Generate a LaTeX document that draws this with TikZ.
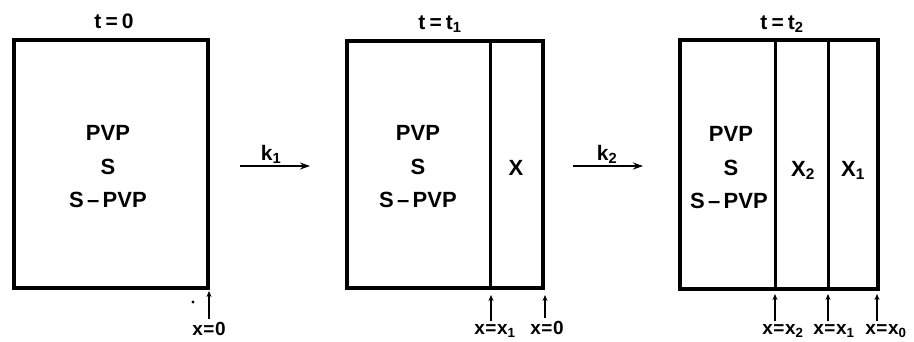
\documentclass[tikz,border=0pt]{standalone}
\usepackage{fontspec}
\setmainfont{Liberation Sans}
\usetikzlibrary{arrows.meta}
\begin{document}
\begin{tikzpicture}[x=1pt,y=-1pt,
  frame/.style={line width=4pt},
  divider/.style={line width=3pt},
  txt/.style={font=\fontsize{22}{24}\selectfont\bfseries, inner sep=0pt, anchor=base},
  ttl/.style={font=\fontsize{21}{24}\selectfont\bfseries, inner sep=0pt, anchor=base},
  poslbl/.style={font=\fontsize{19}{22}\selectfont\bfseries, inner sep=0pt, anchor=base},
  react/.style={-{Stealth[length=10pt,width=7pt]}, line width=1.8pt},
  up/.style={-{Stealth[length=6pt,width=5pt]}, line width=1.5pt}]
\useasboundingbox (0,0) rectangle (914,341);
\newcommand{\eqsp}{\kern0.2em=\kern0.2em}
\newcommand{\eqtt}{\kern0.03em=\kern0.03em}
% ---------- box 1 : t = 0
\coordinate (a1) at (14,40); \coordinate (b1) at (208,288);
\draw[frame] (a1) rectangle (b1);
\node[ttl] (t1) at (114,28) {t\eqsp 0};
\node[txt] (p1) at (108,140) {PVP};
\node[txt] (s1) at (108,174) {S};
\node[txt] (sp1) at (108,207) {S\kern0.15em--\kern0.15em PVP};
\coordinate (e1) at (209,291);
\node[poslbl] (l1) at (209,335) {x\eqtt 0};
\draw[up] ([yshift=3pt]e1 |- l1.north) -- (e1);
\fill (193,302) circle (1.6pt);
% ---------- reaction arrow k1
\coordinate (r1s) at (240,166); \coordinate (r1e) at (310,166);
\draw[react] (r1s) -- (r1e);
\node[ttl] (k1) at (271,160) {k$_{\mathbf 1}$};
% ---------- box 2 : t = t1
\coordinate (a2) at (347,41); \coordinate (b2) at (543,288);
\draw[frame] (a2) rectangle (b2);
\coordinate (d2t) at (490,41); \coordinate (d2b) at (490,288);
\draw[divider] (d2t) -- (d2b);
\node[ttl] (t2) at (440,29) {t\eqsp t$_{\mathbf 1}$};
\node[txt] (p2) at (418,140) {PVP};
\node[txt] (s2) at (418,174) {S};
\node[txt] (sp2) at (418,207) {S\kern0.15em--\kern0.15em PVP};
\node[txt] (x2) at (516,175) {X};
\coordinate (e2a) at (491,295); \coordinate (e2b) at (545,295);
\node[poslbl] (l2a) at (495,334) {x\eqtt x$_{\mathbf 1}$};
\node[poslbl] (l2b) at (547,334) {x\eqtt 0};
\draw[up] ([yshift=3pt]e2a |- l2a.north) -- (e2a);
\draw[up] ([yshift=3pt]e2b |- l2b.north) -- (e2b);
% ---------- reaction arrow k2
\coordinate (r2s) at (573,166); \coordinate (r2e) at (643,166);
\draw[react] (r2s) -- (r2e);
\node[ttl] (k2) at (607,160) {k$_{\mathbf 2}$};
% ---------- box 3 : t = t2
\coordinate (a3) at (680,40); \coordinate (b3) at (878,289);
\draw[frame] (a3) rectangle (b3);
\coordinate (d3t) at (775,40); \coordinate (d3b) at (775,289);
\coordinate (d4t) at (828,40); \coordinate (d4b) at (828,289);
\draw[divider] (d3t) -- (d3b);
\draw[divider] (d4t) -- (d4b);
\node[ttl] (t3) at (782,29) {t\eqsp t$_{\mathbf 2}$};
\node[txt] (p3) at (731,141) {PVP};
\node[txt] (s3) at (731,175) {S};
\node[txt] (sp3) at (729,208) {S\kern0.15em--\kern0.15em PVP};
\node[txt] (x3) at (803,176) {X$_{\mathbf 2}$};
\node[txt] (x4) at (853,176) {X$_{\mathbf 1}$};
\coordinate (e3a) at (775,294); \coordinate (e3b) at (828,294); \coordinate (e3c) at (877,294);
\node[poslbl] (l3a) at (783,334) {x\eqtt x$_{\mathbf 2}$};
\node[poslbl] (l3b) at (834,334) {x\eqtt x$_{\mathbf 1}$};
\node[poslbl] (l3c) at (886,334) {x\eqtt x$_{\mathbf 0}$};
\draw[up] ([yshift=3pt]e3a |- l3a.north) -- (e3a);
\draw[up] ([yshift=3pt]e3b |- l3b.north) -- (e3b);
\draw[up] ([yshift=3pt]e3c |- l3c.north) -- (e3c);
\end{tikzpicture}
\end{document}
